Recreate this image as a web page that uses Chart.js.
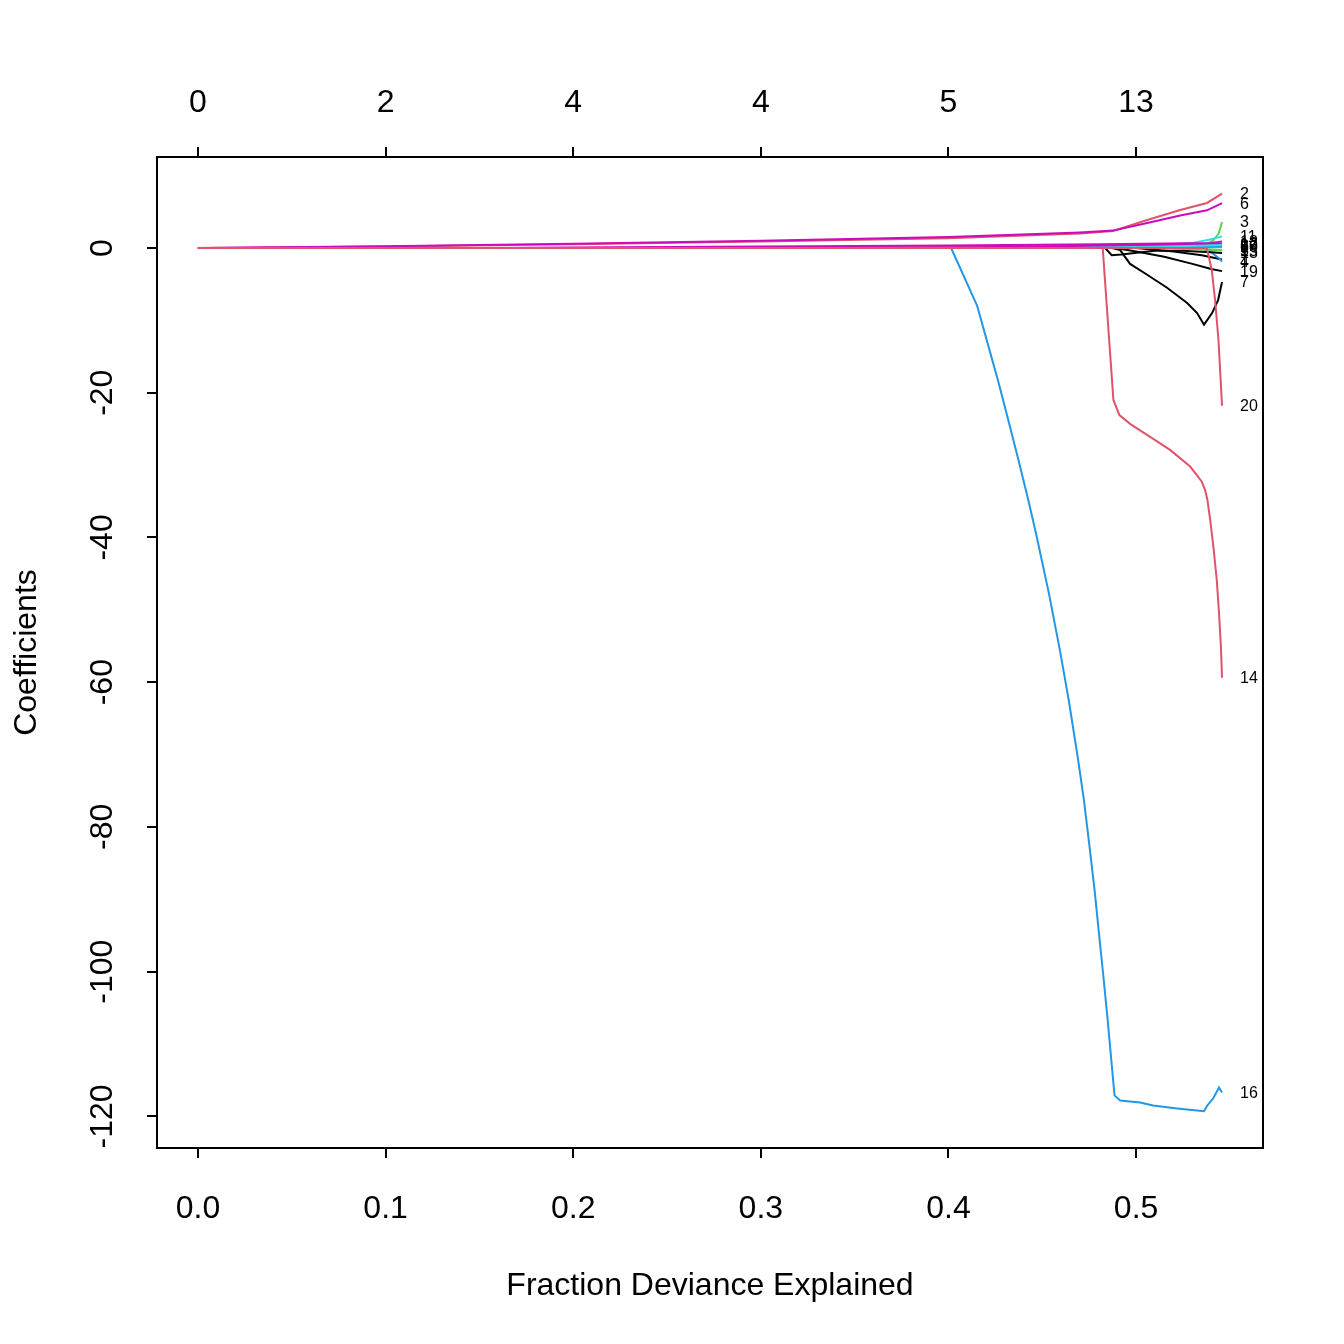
<!DOCTYPE html>
<html lang="en">
<head>
<meta charset="utf-8">
<title>Coefficient paths</title>
<script src="https://cdn.jsdelivr.net/npm/chart.js@4.4.0/dist/chart.umd.min.js"></script>
<style>
  body { margin: 0; background: #fff; }
  #wrap { width: 1344px; height: 1344px; }
</style>
</head>
<body>
<div id="wrap"><canvas id="paths" width="1344" height="1344"></canvas></div>
<script>
// fraction of deviance explained (x) and coefficient (y) for each variable
const dev1 = [0, 0.50, 0.52, 0.535, 0.5458];
const coef1 = [0, 0, -0.5, -1.0, -1.6];
const dev2 = [0, 0.1, 0.2, 0.3, 0.4, 0.47, 0.4877, 0.5059, 0.5235, 0.5378, 0.5458];
const coef2 = [0, 0.2, 0.5, 0.9, 1.35, 2.0, 2.35, 3.87, 5.25, 6.22, 7.5];
const dev3 = [0, 0.49, 0.52, 0.536, 0.541, 0.544, 0.5458];
const coef3 = [0, 0, 0.2, 0.4, 1.0, 2.0, 3.6];
const dev4 = [0, 0.535, 0.54, 0.5445, 0.5458];
const coef4 = [0, 0, -0.6, -1.5, -1.9];
const dev5 = [0, 0.52, 0.54, 0.5458];
const coef5 = [0, 0, -0.2, -0.3];
const dev6 = [0, 0.1, 0.2, 0.3, 0.4, 0.47, 0.4877, 0.5059, 0.5235, 0.5378, 0.5458];
const coef6 = [0, 0.25, 0.6, 1.0, 1.5, 2.15, 2.4, 3.45, 4.5, 5.2, 6.2];
const dev7 = [0, 0.4872, 0.4915, 0.4968, 0.5059, 0.5165, 0.5272, 0.5325, 0.5362, 0.5405, 0.5437, 0.5458];
const coef7 = [0, 0, -0.3, -2.2, -3.7, -5.5, -7.6, -9.0, -10.6, -9.0, -7.2, -4.7];
const dev8 = [0, 0.18, 0.3, 0.4, 0.48, 0.5458];
const coef8 = [0, 0, 0.1, 0.2, 0.25, 0.3];
const dev9 = [0, 0.52, 0.5458];
const coef9 = [0, 0, 0.1];
const dev10 = [0, 0.5, 0.5458];
const coef10 = [0, 0, 0.2];
const dev11 = [0, 0.45, 0.5, 0.53, 0.54, 0.5458];
const coef11 = [0, 0, 0.3, 0.7, 1.2, 1.6];
const dev12 = [0, 0.38, 0.45, 0.5, 0.5458];
const coef12 = [0, 0, 0.2, 0.4, 0.6];
const dev13 = [0, 0.4835, 0.487, 0.492, 0.51, 0.525, 0.54, 0.5458];
const coef13 = [0, 0, -1.0, -0.9, -0.4, -0.4, -0.6, -0.7];
const dev14 = [0, 0.4822, 0.4879, 0.4911, 0.4968, 0.5021, 0.5075, 0.5181, 0.5288, 0.5324, 0.5350, 0.5368, 0.5380, 0.5395, 0.5412, 0.5430, 0.5442, 0.5452, 0.5458];
const coef14 = [0, 0, -21.0, -23.1, -24.3, -25.2, -26.1, -27.9, -30.2, -31.4, -32.3, -33.5, -34.8, -37.6, -41.3, -45.9, -50.5, -55.1, -59.4];
const dev15 = [0, 0.51, 0.5458];
const coef15 = [0, 0, -0.3];
const dev16 = [0, 0.4014, 0.4153, 0.4264, 0.4319, 0.4373, 0.4425, 0.4466, 0.4535, 0.4594, 0.4641, 0.4689, 0.4722, 0.4754, 0.4779, 0.4802, 0.4825, 0.4847, 0.4866, 0.4885, 0.4915, 0.5021, 0.5091, 0.5219, 0.5362, 0.5379, 0.5411, 0.5442, 0.5458];
const coef16 = [0, 0, -8.0, -18.3, -23.8, -29.3, -34.8, -39.4, -47.7, -55.6, -62.5, -70.4, -76.3, -83.2, -88.8, -94.7, -100.5, -106.3, -111.7, -117.1, -117.8, -118.1, -118.5, -118.9, -119.3, -118.5, -117.5, -116.0, -116.7];
const dev17 = [0, 0.49, 0.5458];
const coef17 = [0, 0, 0.4];
const dev18 = [0, 0.15, 0.2, 0.3, 0.4, 0.48, 0.54, 0.5458];
const coef18 = [0, 0, 0.05, 0.2, 0.35, 0.5, 0.7, 0.9];
const dev19 = [0, 0.489, 0.50, 0.515, 0.53, 0.54, 0.5458];
const coef19 = [0, 0, -0.5, -1.2, -2.2, -2.9, -3.2];
const dev20 = [0, 0.5377, 0.5403, 0.5421, 0.5439, 0.5458];
const coef20 = [0, 0, -3.0, -7.2, -12.7, -21.8];

const varNames = ['1','2','3','4','5','6','7','8','9','10','11','12','13','14','15','16','17','18','19','20'];
const pathDev = [dev1, dev2, dev3, dev4, dev5, dev6, dev7, dev8, dev9, dev10, dev11, dev12, dev13, dev14, dev15, dev16, dev17, dev18, dev19, dev20];
const pathCoef = [coef1, coef2, coef3, coef4, coef5, coef6, coef7, coef8, coef9, coef10, coef11, coef12, coef13, coef14, coef15, coef16, coef17, coef18, coef19, coef20];

// axis ticks
const xTicks = [0, 0.1, 0.2, 0.3, 0.4, 0.5];
const xTickLabels = ['0.0', '0.1', '0.2', '0.3', '0.4', '0.5'];
const dfLabels = ['0', '2', '4', '4', '5', '13'];   // non-zero coefficients, top axis
const yTicks = [0, -20, -40, -60, -80, -100, -120];

// R matplot default colours (1:6)
const palette = ['#000000', '#DF536B', '#61D04F', '#2297E6', '#28E2E5', '#CD0BBC'];

const allDev = pathDev.flat(), allCoef = pathCoef.flat();
const xLo = Math.min(...allDev), xHi = Math.max(...allDev);
const yLo = Math.min(...allCoef), yHi = Math.max(...allCoef);
const xPad = (xHi - xLo) * 0.04, yPad = (yHi - yLo) * 0.04;

const FONT = '"Liberation Sans", Arial, Helvetica, sans-serif';
Chart.defaults.font.family = FONT;
Chart.defaults.color = '#000';

const datasets = pathCoef.map((c, i) => ({
  label: varNames[i],
  data: c.map((v, j) => ({ x: pathDev[i][j], y: v })),
  borderColor: palette[i % palette.length],
  borderWidth: 2,
  pointRadius: 0,
  fill: false,
  tension: 0,
  order: pathCoef.length - i
}));

// box round the plot and the variable numbers at the right end
const endLabels = {
  id: 'endLabels',
  afterDatasetsDraw(chart) {
    const { ctx, chartArea: a, scales } = chart;
    ctx.save();
    ctx.strokeStyle = '#000';
    ctx.lineWidth = 2;
    ctx.strokeRect(a.left, a.top, a.right - a.left, a.bottom - a.top);
    ctx.font = '16px ' + FONT;
    ctx.fillStyle = '#000';
    ctx.textAlign = 'left';
    ctx.textBaseline = 'middle';
    pathCoef.forEach((c, i) => {
      const d = pathDev[i];
      const px = scales.x.getPixelForValue(d[d.length - 1]);
      const py = scales.y.getPixelForValue(c[c.length - 1]);
      ctx.fillText(varNames[i], px + 18, py + 1);
    });
    ctx.restore();
  }
};

const tickGrid = { drawOnChartArea: false, drawTicks: true, tickLength: 10, color: '#000', lineWidth: 2 };

new Chart(document.getElementById('paths'), {
  type: 'line',
  data: { datasets: datasets },
  options: {
    responsive: false,
    animation: false,
    events: [],
    layout: { padding: { left: 0, right: 81, top: 0, bottom: 0 } },
    plugins: { legend: { display: false }, tooltip: { enabled: false } },
    scales: {
      x: {
        type: 'linear',
        position: 'bottom',
        min: xLo - xPad,
        max: xHi + xPad,
        afterFit: s => { s.height = 196; },
        afterBuildTicks: s => { s.ticks = xTicks.map(v => ({ value: v })); },
        ticks: { callback: (v, i) => xTickLabels[i], font: { size: 32 }, padding: 32, maxRotation: 0, autoSkip: false },
        grid: tickGrid,
        border: { display: false },
        title: { display: true, text: 'Fraction Deviance Explained', font: { size: 32 }, padding: { top: 0, bottom: 39 } }
      },
      x2: {
        type: 'linear',
        axis: 'x',
        position: 'top',
        min: xLo - xPad,
        max: xHi + xPad,
        afterFit: s => { s.height = 157; },
        afterBuildTicks: s => { s.ticks = xTicks.map(v => ({ value: v })); },
        ticks: { callback: (v, i) => dfLabels[i], font: { size: 32 }, padding: 25, maxRotation: 0, autoSkip: false },
        grid: tickGrid,
        border: { display: false }
      },
      y: {
        type: 'linear',
        position: 'left',
        min: yLo - yPad,
        max: yHi + yPad,
        afterFit: s => { s.width = 157; },
        afterBuildTicks: s => { s.ticks = yTicks.map(v => ({ value: v })); },
        ticks: { font: { size: 32 }, minRotation: 90, maxRotation: 90, crossAlign: 'center', padding: 12, autoSkip: false },
        grid: tickGrid,
        border: { display: false },
        title: { display: true, text: 'Coefficients', font: { size: 32 }, padding: { top: 8, bottom: 0 } }
      }
    }
  },
  plugins: [endLabels]
});
</script>
</body>
</html>
